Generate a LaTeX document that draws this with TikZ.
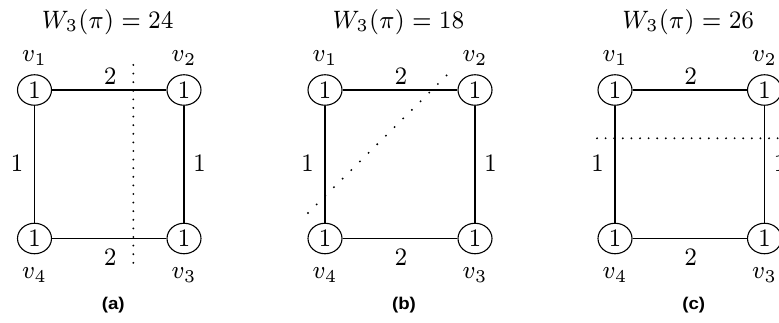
\documentclass[tikz,border=0pt]{standalone}
\usepackage{fontspec}
\usepackage{graphicx}
\newfontfamily\capfont{Liberation Sans}
\usetikzlibrary{shapes.geometric}
\newcommand{\tx}[1]{\scalebox{3.2}[3.6]{\fontsize{7}{8}\selectfont #1}}
\tikzset{
  vtx/.style={ellipse, draw, line width=1.1pt, minimum width=34pt, minimum height=30.5pt,
    inner sep=0pt},
  edge/.style={line width=1.2pt},
  lbl/.style={inner sep=0pt},
  cutv/.style={line width=2.1pt, line cap=round, dash pattern=on 0pt off 8.6pt},
  cutd/.style={line width=2.1pt, line cap=round, dash pattern=on 0pt off 12.2pt},
  capt/.style={inner sep=0pt, font=\capfont\bfseries\fontsize{17}{20}\selectfont},
}
% #1 offset, #2 prefix, #3 value, #4 caption, #5 spacing
\newcommand{\panel}[5]{%
\begin{scope}[xshift=#1pt]
  \node[vtx] (#2v1) at (34.5,90) {\tx{1}};
  \node[vtx] (#2v2) at (34.5+#5,90) {\tx{1}};
  \node[vtx] (#2v3) at (34.5+#5,238.5) {\tx{1}};
  \node[vtx] (#2v4) at (34.5,238.5) {\tx{1}};
  \draw[edge] (#2v1) -- (#2v2) -- (#2v3) -- (#2v4) -- (#2v1);
  \node[lbl] (#2l1) at (34.5,58) {\tx{$v_1$}};
  \node[lbl] (#2l2) at (34.5+#5,58) {\tx{$v_2$}};
  \node[lbl] (#2l3) at (34.5+#5,275) {\tx{$v_3$}};
  \node[lbl] (#2l4) at (34.5,275) {\tx{$v_4$}};
  \node[lbl] (#2e12) at (34.5+#5/2+1,76) {\tx{2}};
  \node[lbl] (#2e43) at (34.5+#5/2+1,257) {\tx{2}};
  \node[lbl] (#2e14) at (34.5-17.5,163) {\tx{1}};
  \node[lbl] (#2e23) at (34.5+#5+15.5,163) {\tx{1}};
  \node[lbl, anchor=base] (#2t) at (34.5+#5/2-1.5,28.3) {\tx{$W_3(\pi) = #3$}};
  \node[capt] (#2c) at (34.5+#5/2+4,305) {\scalebox{1.1}[1]{(#4)}};
\end{scope}}
\begin{document}
\begin{tikzpicture}[x=1pt,y=-1pt]
\useasboundingbox (0,0) rectangle (779,323);
\clip (0,0) rectangle (779,323);
\fill[white] (0,0) rectangle (779,323);
\panel{0}{a}{24}{a}{149.5}
\panel{290.5}{b}{18}{b}{150}
\panel{580.5}{c}{26}{c}{149.5}
% cuts
\coordinate (acut1) at (133.3,65);
\coordinate (acut2) at (133.3,263);
\draw[cutv] (acut1) -- (acut2);
\coordinate (bcut1) at (308,213);
\coordinate (bcut2) at (447,75);
\draw[cutd] (bcut1) -- (bcut2);
\coordinate (ccut1) at (597,138.3);
\coordinate (ccut2) at (790,138.3);
\draw[cutv] (ccut1) -- (ccut2);
\end{tikzpicture}
\end{document}
